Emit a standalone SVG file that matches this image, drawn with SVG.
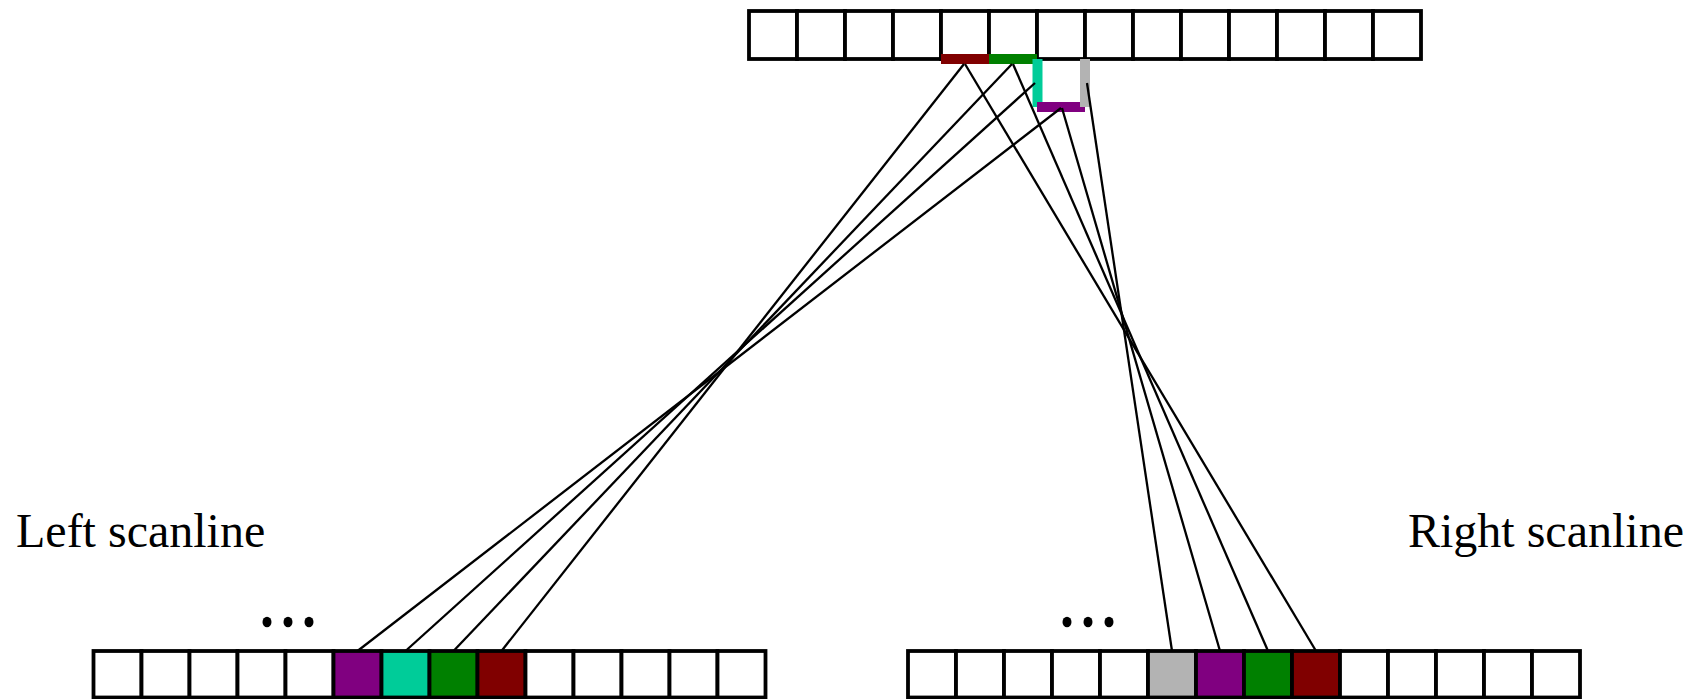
<svg xmlns="http://www.w3.org/2000/svg" width="1698" height="699" viewBox="0 0 1698 699">
  <style>
    .cell { fill: #ffffff; stroke: #000000; stroke-width: 3.8; }
    .purple { fill: #800080; }
    .teal { fill: #00cc99; }
    .green { fill: #008000; }
    .maroon { fill: #800000; }
    .gray { fill: #b3b3b3; }
    .bar { stroke-width: 10; fill: none; }
    .link { stroke: #000000; stroke-width: 2.3; fill: none; }
    .label { font-family: "Liberation Serif", "Times New Roman", serif; font-size: 48px; fill: #000000; }
  </style>
  <rect width="1698" height="699" fill="#ffffff"/>

  <!-- Source row -->
  <g id="source-row">
    <rect class="cell" x="749" y="11" width="48" height="48"/>
    <rect class="cell" x="797" y="11" width="48" height="48"/>
    <rect class="cell" x="845" y="11" width="48" height="48"/>
    <rect class="cell" x="893" y="11" width="48" height="48"/>
    <rect class="cell" x="941" y="11" width="48" height="48"/>
    <rect class="cell" x="989" y="11" width="48" height="48"/>
    <rect class="cell" x="1037" y="11" width="48" height="48"/>
    <rect class="cell" x="1085" y="11" width="48" height="48"/>
    <rect class="cell" x="1133" y="11" width="48" height="48"/>
    <rect class="cell" x="1181" y="11" width="48" height="48"/>
    <rect class="cell" x="1229" y="11" width="48" height="48"/>
    <rect class="cell" x="1277" y="11" width="48" height="48"/>
    <rect class="cell" x="1325" y="11" width="48" height="48"/>
    <rect class="cell" x="1373" y="11" width="48" height="48"/>
  </g>

  <!-- Edge path segments traced under the source row -->
  <g id="edge-segments">
    <line class="bar" x1="941" y1="59" x2="989" y2="59" stroke="#800000"/>
    <line class="bar" x1="989" y1="59" x2="1037" y2="59" stroke="#008000"/>
    <line class="bar" x1="1037.5" y1="59" x2="1037.5" y2="107" stroke="#00cc99"/>
    <line class="bar" x1="1037" y1="107" x2="1085" y2="107" stroke="#800080"/>
    <line class="bar" x1="1085" y1="59" x2="1085" y2="107" stroke="#b3b3b3"/>
  </g>

  <!-- Left scanline -->
  <g id="left-scanline">
    <rect class="cell" x="93.5" y="651" width="48" height="46.5"/>
    <rect class="cell" x="141.5" y="651" width="48" height="46.5"/>
    <rect class="cell" x="189.5" y="651" width="48" height="46.5"/>
    <rect class="cell" x="237.5" y="651" width="48" height="46.5"/>
    <rect class="cell" x="285.5" y="651" width="48" height="46.5"/>
    <rect class="cell purple" x="333.5" y="651" width="48" height="46.5"/>
    <rect class="cell teal" x="381.5" y="651" width="48" height="46.5"/>
    <rect class="cell green" x="429.5" y="651" width="48" height="46.5"/>
    <rect class="cell maroon" x="477.5" y="651" width="48" height="46.5"/>
    <rect class="cell" x="525.5" y="651" width="48" height="46.5"/>
    <rect class="cell" x="573.5" y="651" width="48" height="46.5"/>
    <rect class="cell" x="621.5" y="651" width="48" height="46.5"/>
    <rect class="cell" x="669.5" y="651" width="48" height="46.5"/>
    <rect class="cell" x="717.5" y="651" width="48" height="46.5"/>
    <ellipse cx="267" cy="622" rx="4.5" ry="5.3"/>
    <ellipse cx="288" cy="622" rx="4.5" ry="5.3"/>
    <ellipse cx="309" cy="622" rx="4.5" ry="5.3"/>
    <text class="label" x="16" y="547">Left scanline</text>
  </g>

  <!-- Right scanline -->
  <g id="right-scanline">
    <rect class="cell" x="908" y="651" width="48" height="46.5"/>
    <rect class="cell" x="956" y="651" width="48" height="46.5"/>
    <rect class="cell" x="1004" y="651" width="48" height="46.5"/>
    <rect class="cell" x="1052" y="651" width="48" height="46.5"/>
    <rect class="cell" x="1100" y="651" width="48" height="46.5"/>
    <rect class="cell gray" x="1148" y="651" width="48" height="46.5"/>
    <rect class="cell purple" x="1196" y="651" width="48" height="46.5"/>
    <rect class="cell green" x="1244" y="651" width="48" height="46.5"/>
    <rect class="cell maroon" x="1292" y="651" width="48" height="46.5"/>
    <rect class="cell" x="1340" y="651" width="48" height="46.5"/>
    <rect class="cell" x="1388" y="651" width="48" height="46.5"/>
    <rect class="cell" x="1436" y="651" width="48" height="46.5"/>
    <rect class="cell" x="1484" y="651" width="48" height="46.5"/>
    <rect class="cell" x="1532" y="651" width="48" height="46.5"/>
    <ellipse cx="1067" cy="622" rx="4.5" ry="5.3"/>
    <ellipse cx="1088" cy="622" rx="4.5" ry="5.3"/>
    <ellipse cx="1109" cy="622" rx="4.5" ry="5.3"/>
    <text class="label" x="1408" y="547">Right scanline</text>
  </g>

  <!-- Connectors from edge segments to scanline pixels -->
  <g id="connectors">
    <line class="link" x1="964" y1="64" x2="501.5" y2="651"/>
    <line class="link" x1="1012" y1="64" x2="453.5" y2="651"/>
    <line class="link" x1="1035" y1="83" x2="405.5" y2="651"/>
    <line class="link" x1="1061" y1="108" x2="357.5" y2="651"/>
    <line class="link" x1="965" y1="64" x2="1316" y2="651"/>
    <line class="link" x1="1013" y1="64" x2="1268" y2="651"/>
    <line class="link" x1="1062" y1="108" x2="1220" y2="651"/>
    <line class="link" x1="1087" y1="83" x2="1172" y2="651"/>
  </g>
</svg>
